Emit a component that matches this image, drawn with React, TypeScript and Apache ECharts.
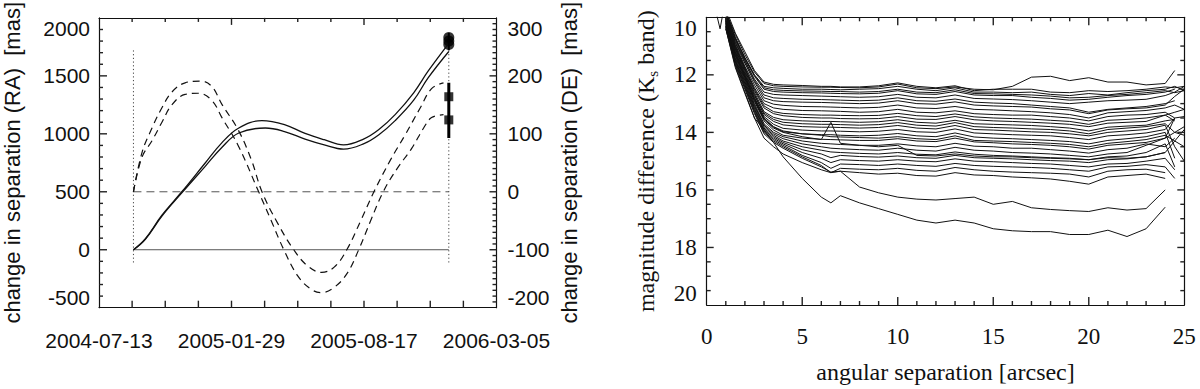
import React, { useEffect, useRef } from "react";
import * as echarts from "echarts";

// ---------- Left panel: change in separation vs date ----------
const DATE_TICKS = ["2004-07-13", "2005-01-29", "2005-08-17", "2006-03-05"];
const DAY_STEP = 200; // days between labelled dates (0 = 2004-07-13)

// RA model curves (mas), days since 2004-07-13
const RA_OUTER_DAY = [52, 70, 95, 125, 160, 185, 211, 246, 280, 311, 340, 369, 400, 422, 447, 475, 497, 528];
const RA_OUTER = [0, 95, 298, 500, 746, 920, 1050, 1114, 1079, 1003, 949, 905, 957, 1035, 1166, 1354, 1542, 1780];
const RA_INNER_DAY = [52, 70, 95, 125, 160, 185, 211, 251, 280, 311, 340, 369, 400, 422, 447, 475, 497, 528];
const RA_INNER = [0, 90, 290, 490, 717, 880, 1007, 1050, 1020, 955, 905, 868, 915, 990, 1114, 1290, 1484, 1710];

// DE model curves (mas), days since 2004-07-13
const DE_A_DAY = [52, 65, 80, 95, 110, 130, 153, 170, 186, 210, 230, 246, 270, 294, 315, 336, 355, 374, 395, 415, 440, 462, 485, 502, 520];
const DE_A = [0, 68, 110, 145, 172, 188, 191, 182, 150, 107, 55, 0, -55, -100, -128, -139, -130, -100, -50, 0, 55, 98, 145, 178, 188];
const DE_B_DAY = [52, 65, 80, 95, 110, 130, 150, 170, 186, 210, 241, 260, 279, 300, 320, 336, 355, 375, 392, 410, 429, 450, 472, 490, 502, 520];
const DE_B = [0, 60, 88, 120, 150, 168, 170, 158, 127, 80, 0, -50, -100, -145, -168, -174, -165, -140, -100, -50, 0, 40, 75, 110, 128, 133];

// reference lines / epochs
const EPOCH_DAYS = [52, 528];
const DOTTED_RANGE = [-110, 1730];

// measurements at the last epoch
const RA_POINTS = [1830, 1800, 1770];
const RA_ERR = [1720, 1870];
const DE_POINTS = [164, 124];
const DE_ERR = [93, 188];

// ---------- Right panel: detection limits ----------
const SEP_X = [1, 1.5, 2, 2.5, 3, 3.5, 4, 5, 6, 6.5, 7, 8, 9, 10, 11, 12, 13, 14, 15, 16, 17, 18, 19, 20, 21, 22, 23, 24, 24.5, 25];

const m01 = [9.8, 10.6, 11.3, 11.9, 12.3, 12.38, 12.4, 12.42, 12.43, 12.43, 12.44, 12.45, 12.42, 12.32, 12.45, 12.48, 12.42, 12.5, 12.52, 12.4, 12.08, 12.05, 12.2, 12.1, 12.25, 12.25, 12.35, 12.3, 11.85, null];
const m02 = [9.7, 10.55, 11.2, 11.85, 12.25, 12.33, 12.35, 12.37, 12.4, 12.4, 12.42, 12.42, 12.38, 12.28, 12.4, 12.45, 12.38, 12.55, 12.5, 12.5, 12.5, 12.6, 12.62, 12.55, 12.58, 12.55, 12.5, 12.42, 12.45, 12.4];
const m03 = [9.8, 10.7, 11.4, 12.0, 12.4, 12.45, 12.47, 12.5, 12.5, 12.51, 12.52, 12.5, 12.48, 12.4, 12.5, 12.55, 12.45, 12.6, 12.6, 12.62, 12.6, 12.68, 12.72, 12.65, 12.7, 12.62, 12.55, 12.5, 12.4, 12.55];
const m04 = [9.85, 10.75, 11.45, 12.05, 12.5, 12.58, 12.6, 12.62, 12.63, 12.64, 12.65, 12.66, 12.64, 12.55, 12.66, 12.68, 12.58, 12.7, 12.72, 12.72, 12.78, 12.82, 12.88, 12.85, 12.78, 12.72, 12.68, 12.6, 12.5, null];
const m05 = [9.8, 10.8, 11.5, 12.15, 12.6, 12.68, 12.7, 12.72, 12.74, 12.75, 12.76, 12.78, 12.76, 12.68, 12.78, 12.8, 12.7, 12.82, 12.84, 12.86, 12.9, 12.95, 13.0, 12.95, 12.9, 12.88, 12.85, 12.72, 12.6, 12.4];
const m06 = [9.9, 10.85, 11.55, 12.2, 12.7, 12.8, 12.82, 12.85, 12.86, 12.87, 12.88, 12.9, 12.88, 12.8, 12.9, 12.92, 12.84, 12.95, 12.98, 13.0, 13.05, 13.1, 13.15, 13.3, 13.2, 13.15, 13.1, 13.0, 12.9, null];
const m07 = [9.9, 10.9, 11.6, 12.25, 12.8, 12.9, 12.93, 12.95, 12.96, 12.97, 12.98, 13.0, 12.98, 12.9, 13.0, 13.02, 12.94, 13.05, 13.08, 13.1, 13.12, 13.18, 13.22, 13.35, 13.22, 13.18, 13.15, 13.05, 12.75, 12.5];
const m08 = [9.95, 10.95, 11.7, 12.35, 12.9, 13.02, 13.06, 13.1, 13.11, 13.12, 13.13, 13.15, 13.13, 13.05, 13.15, 13.17, 13.1, 13.2, 13.22, 13.25, 13.28, 13.32, 13.38, 13.5, 13.32, 13.28, 13.24, 13.15, 13.05, 13.2];
const m09 = [10.0, 11.0, 11.75, 12.45, 13.0, 13.15, 13.2, 13.24, 13.25, 13.26, 13.27, 13.3, 13.28, 13.2, 13.3, 13.32, 13.25, 13.35, 13.38, 13.4, 13.4, 13.45, 13.5, 13.6, 13.45, 13.4, 13.38, 13.3, 13.5, null];
const m10 = [10.0, 11.05, 11.8, 12.55, 13.15, 13.35, 13.42, 13.48, 13.5, 13.5, 13.52, 13.53, 13.52, 13.45, 13.54, 13.55, 13.45, 13.56, 13.6, 13.62, 13.65, 13.68, 13.72, 13.8, 13.68, 13.65, 13.62, 13.4, 13.3, 13.2];
const m11 = [10.05, 11.1, 11.85, 12.62, 13.28, 13.48, 13.56, 13.6, 13.62, 13.62, 13.63, 13.65, 13.63, 13.56, 13.65, 13.68, 13.58, 13.7, 13.72, 13.74, 13.76, 13.8, 13.85, 13.95, 13.82, 13.78, 13.75, 13.6, 13.55, null];
const m12 = [10.05, 11.1, 11.9, 12.68, 13.33, 13.55, 13.65, 13.7, 13.72, 13.72, 13.73, 13.75, 13.73, 13.66, 13.75, 13.78, 13.66, 13.8, 13.83, 13.85, 13.88, 13.9, 13.95, 14.05, 13.9, 13.85, 13.8, 13.7, 14.0, 14.1];
const m13 = [10.1, 11.15, 11.95, 12.72, 13.38, 13.62, 13.74, 13.8, 13.82, 13.82, 13.83, 13.85, 13.83, 13.76, 13.85, 13.88, 13.76, 13.9, 13.92, 13.95, 13.98, 14.0, 14.05, 14.12, 14.0, 13.95, 13.9, 13.75, 14.5, 15.0];
const m14 = [10.1, 11.2, 12.0, 12.78, 13.45, 13.72, 13.86, 13.92, 13.95, 13.95, 13.96, 13.98, 13.96, 13.9, 13.98, 14.0, 13.88, 14.02, 14.05, 14.08, 14.1, 14.12, 14.18, 14.25, 14.12, 14.08, 14.02, 13.9, 13.5, 13.45];
const m15 = [10.15, 11.25, 12.05, 12.85, 13.52, 13.82, 13.98, 14.05, 14.08, 14.08, 14.1, 14.12, 14.1, 14.04, 14.12, 14.15, 14.02, 14.16, 14.2, 14.22, 14.25, 14.28, 14.32, 14.4, 14.28, 14.22, 14.15, 14.0, 14.9, null];
const m16 = [10.15, 11.3, 12.1, 12.9, 13.55, 13.85, 14.0, 14.15, 14.25, 13.65, 14.38, 14.45, 14.5, 14.45, 14.8, 14.82, 14.75, 14.82, 14.85, 14.85, 14.88, 14.9, 14.92, 14.95, 14.88, 14.9, 14.85, 14.7, 14.3, 13.9];
const m17 = [10.15, 11.3, 12.1, 12.92, 13.6, 13.92, 14.1, 14.2, 14.24, 14.25, 14.26, 14.28, 14.28, 14.22, 14.3, 14.32, 14.2, 14.33, 14.36, 14.4, 14.42, 14.45, 14.5, 14.58, 14.45, 14.4, 14.35, 14.2, 14.0, 13.8];
const m18 = [10.2, 11.35, 12.15, 13.0, 13.7, 14.0, 14.15, 14.3, 14.38, 14.4, 14.42, 14.45, 14.45, 14.4, 14.47, 14.5, 14.38, 14.48, 14.5, 14.55, 14.55, 14.6, 14.65, 14.72, 14.6, 14.55, 14.4, 14.5, 14.2, null];
const m19 = [10.2, 11.4, 12.2, 13.05, 13.75, 14.05, 14.22, 14.4, 14.5, 14.55, 14.57, 14.6, 14.62, 14.55, 14.62, 14.65, 14.52, 14.62, 14.65, 14.7, 14.72, 14.75, 14.8, 14.85, 14.75, 14.7, 14.45, 14.2, 13.5, null];
const m20 = [10.25, 11.45, 12.25, 13.1, 13.8, 14.1, 14.3, 14.5, 14.62, 14.68, 14.7, 14.73, 14.75, 14.7, 14.76, 14.78, 14.68, 14.76, 14.8, 14.82, 14.85, 14.88, 14.9, 14.95, 14.85, 14.82, 14.7, 14.4, 15.2, null];
const m21 = [10.25, 11.5, 12.3, 13.15, 13.85, 14.15, 14.35, 14.6, 14.75, 14.88, 14.8, 14.84, 14.86, 14.82, 14.88, 14.9, 14.8, 14.88, 14.9, 14.92, 14.95, 14.98, 15.0, 15.05, 14.95, 14.92, 14.85, 14.7, null, null];
const m22 = [10.3, 11.5, 12.35, 13.2, 13.9, 14.2, 14.4, 14.7, 14.9, 15.05, 14.95, 14.98, 15.0, 14.95, 15.0, 15.02, 14.92, 15.0, 15.02, 15.05, 15.08, 15.1, 15.15, 15.2, 15.1, 15.08, 15.0, 14.9, 15.3, null];
const m23 = [10.3, 11.55, 12.4, 13.25, 13.95, 14.25, 14.45, 14.8, 15.05, 15.25, 15.1, 15.12, 15.15, 15.1, 15.15, 15.18, 15.08, 15.15, 15.18, 15.2, 15.22, 15.25, 15.3, 15.35, 15.2, 15.18, 15.12, 15.2, 15.6, null];
const m24 = [10.35, 11.6, 12.45, 13.3, 14.0, 14.3, 14.5, 14.85, 15.15, 15.4, 15.25, 15.28, 15.3, 15.25, 15.32, 15.35, 15.22, 15.3, 15.35, 15.38, 15.4, 15.42, 15.45, 15.55, 15.35, 15.3, 15.28, 15.4, null, null];
const m25 = [10.35, 11.65, 12.5, 13.35, 14.05, 14.35, 14.55, 14.9, 15.2, 15.38, 15.35, 15.4, 15.45, 15.42, 15.5, 15.52, 15.4, 15.48, 15.5, 15.55, 15.58, 15.62, 15.7, 15.8, 15.55, 15.5, 15.45, 15.6, null, null];
const m26 = [10.4, 11.7, 12.6, 13.5, 14.2, 14.5, 14.75, 15.05, 15.3, 15.4, 15.35, 15.9, 16.1, 16.25, 16.32, 16.35, 16.3, 16.25, 16.5, 16.4, 16.62, 16.68, 16.72, 16.75, 16.62, 16.7, 16.65, 16.0, null, null];
const m27 = [10.4, 11.75, 12.65, 13.5, 13.9, 14.35, 14.85, 15.6, 16.25, 16.45, 16.2, 16.45, 16.65, 16.85, 17.05, 17.15, 17.05, 17.15, 17.35, 17.42, 17.45, 17.45, 17.55, 17.55, 17.4, 17.62, 17.35, 16.6, null, null];
const m28 = [9.82, 10.72, 11.42, 12.02, 12.45, 12.52, 12.54, 12.56, 12.57, 12.58, 12.58, 12.6, 12.58, 12.5, 12.6, 12.62, 12.52, 12.65, 12.66, 12.68, 12.7, 12.74, 12.8, 12.78, 12.72, 12.68, 12.62, 12.55, 12.62, 12.55];
const m29 = [10.0, 11.02, 11.78, 12.5, 13.08, 13.28, 13.34, 13.38, 13.4, 13.4, 13.41, 13.42, 13.41, 13.34, 13.42, 13.45, 13.36, 13.46, 13.5, 13.52, 13.54, 13.58, 13.62, 13.72, 13.58, 13.55, 13.5, 13.4, 13.6, null];
const m30 = [10.12, 11.22, 12.02, 12.82, 13.5, 13.8, 13.95, 14.05, 14.1, 14.15, 14.16, 14.18, 14.2, 14.15, 14.22, 14.25, 14.12, 14.28, 14.3, 14.32, 14.35, 14.38, 14.42, 14.5, 14.38, 14.32, 14.25, 14.1, 14.3, 14.5];

const SPUR_X = [0.5, 0.7, 0.95];
const SPUR_Y = [9.85, 10.4, 9.5];

const MAG_CURVES = [m01, m02, m03, m04, m05, m06, m07, m08, m09, m10, m11, m12, m13, m14, m15,
  m16, m17, m18, m19, m20, m21, m22, m23, m24, m25, m26, m27, m28, m29, m30];

const SANS = "'Liberation Sans', Arial, Helvetica, sans-serif";
const SERIF = "'Liberation Serif', 'Times New Roman', Times, serif";
const INK = "#111";
const TICK_INK = "#222";

function zip(xs: number[], ys: (number | null)[]) {
  const out: number[][] = [];
  xs.forEach((x, i) => {
    const y = ys[i];
    if (y !== null && y !== undefined) out.push([x, y]);
  });
  return out;
}

// tick positions along an axis: [value, length in px]
function tickMarks(min: number, max: number, step: number, majorEvery: number, majorLen: number, minorLen: number) {
  const out: number[][] = [];
  const n = Math.round((max - min) / step);
  for (let i = 1; i < n; i++) {
    const v = min + i * step;
    const isMajor = Math.abs(v / majorEvery - Math.round(v / majorEvery)) < 1e-6;
    out.push([v, isMajor ? majorLen : minorLen]);
  }
  return out;
}

function frameAxis(extra: any) {
  return {
    axisLine: { show: true, onZero: false, lineStyle: { color: INK, width: 1.2 } },
    splitLine: { show: false },
    axisTick: { show: false },
    minorTick: { show: false },
    ...extra,
  };
}

export default function App() {
  const ref = useRef<HTMLDivElement>(null);

  useEffect(() => {
    if (!ref.current) return;
    const chart = echarts.init(ref.current, undefined, { renderer: "svg" });

    const line = (data: number[][], xi: number, yi: number, style: any, smooth: any = false) => ({
      type: "line",
      xAxisIndex: xi,
      yAxisIndex: yi,
      data,
      showSymbol: false,
      symbol: "none",
      smooth,
      silent: true,
      lineStyle: style,
    });

    // inward tick marks (IDL style) drawn from a side of the grid
    const ticks = (xi: number, yi: number, side: string, marks: number[][], refOther: number) => ({
      type: "custom",
      coordinateSystem: "cartesian2d",
      xAxisIndex: xi,
      yAxisIndex: yi,
      silent: true,
      clip: false,
      z: 5,
      data: marks,
      renderItem: (params: any, api: any) => {
        const cs = params.coordSys;
        const v = api.value(0);
        const len = api.value(1);
        let shape: any;
        if (side === "bottom" || side === "top") {
          const px = api.coord([v, refOther])[0];
          const y0 = side === "bottom" ? cs.y + cs.height : cs.y;
          const y1 = side === "bottom" ? y0 - len : y0 + len;
          shape = { x1: px, y1: y0, x2: px, y2: y1 };
        } else {
          const py = api.coord([refOther, v])[1];
          const x0 = side === "left" ? cs.x : cs.x + cs.width;
          const x1 = side === "left" ? x0 + len : x0 - len;
          shape = { x1: x0, y1: py, x2: x1, y2: py };
        }
        return { type: "line", shape, style: { stroke: TICK_INK, lineWidth: 1.4 } };
      },
    });

    const series: any[] = [
      line([[EPOCH_DAYS[0], 0], [EPOCH_DAYS[1], 0]], 0, 0, { color: "#555", width: 1 }),
      line([[EPOCH_DAYS[0], 0], [EPOCH_DAYS[1], 0]], 0, 1, { color: "#555", width: 1, type: [8, 5] }),
      line([[EPOCH_DAYS[0], DOTTED_RANGE[0]], [EPOCH_DAYS[0], DOTTED_RANGE[1]]], 0, 0, { color: "#444", width: 1, type: [1.2, 2.5] }),
      line([[EPOCH_DAYS[1], DOTTED_RANGE[0]], [EPOCH_DAYS[1], DOTTED_RANGE[1]]], 0, 0, { color: "#444", width: 1, type: [1.2, 2.5] }),
      line(zip(RA_OUTER_DAY, RA_OUTER), 0, 0, { color: INK, width: 1.3 }, 0.4),
      line(zip(RA_INNER_DAY, RA_INNER), 0, 0, { color: INK, width: 1.3 }, 0.4),
      line(zip(DE_A_DAY, DE_A), 0, 1, { color: INK, width: 1.2, type: [7, 5] }, 0.4),
      line(zip(DE_B_DAY, DE_B), 0, 1, { color: INK, width: 1.2, type: [7, 5] }, 0.4),
      line([[EPOCH_DAYS[1], RA_ERR[0]], [EPOCH_DAYS[1], RA_ERR[1]]], 0, 0, { color: "#000", width: 2 }),
      line([[EPOCH_DAYS[1], DE_ERR[0]], [EPOCH_DAYS[1], DE_ERR[1]]], 0, 1, { color: "#000", width: 3 }),
      {
        type: "scatter", xAxisIndex: 0, yAxisIndex: 0, silent: true,
        symbol: "circle", symbolSize: 11, itemStyle: { color: "#000" },
        data: RA_POINTS.map((v) => [EPOCH_DAYS[1], v]),
      },
      {
        type: "scatter", xAxisIndex: 0, yAxisIndex: 1, silent: true,
        symbol: "rect", symbolSize: 9, itemStyle: { color: "#000" },
        data: DE_POINTS.map((v) => [EPOCH_DAYS[1], v]),
      },
      line(zip(SPUR_X, SPUR_Y), 2, 2, { color: INK, width: 1 }),
      ...MAG_CURVES.map((c) => line(zip(SEP_X, c), 2, 2, { color: INK, width: 1 })),
      ticks(0, 0, "bottom", tickMarks(0, 600, 50, 200, 7, 7), 0),
      ticks(0, 0, "top", tickMarks(0, 600, 50, 200, 7, 4), 0),
      ticks(0, 0, "left", tickMarks(-500, 2000, 100, 500, 8, 4), 0),
      ticks(0, 1, "right", tickMarks(-200, 300, 10, 100, 7, 4), 0),
      ticks(2, 2, "bottom", tickMarks(0, 25, 1, 5, 8, 4), 15),
      ticks(2, 2, "top", tickMarks(0, 25, 1, 5, 8, 4), 15),
      ticks(2, 2, "left", tickMarks(10, 20, 0.5, 2, 7, 4), 10),
      ticks(2, 2, "right", tickMarks(10, 20, 0.5, 2, 7, 4), 10),
    ];

    const leftLabel = { fontFamily: SANS, fontSize: 21, color: INK };
    const rightLabel = { fontFamily: SERIF, fontSize: 23, color: INK };

    chart.setOption({
      animation: false,
      backgroundColor: "#fff",
      grid: [
        { left: 98.5, right: 703.5, top: 17.7, bottom: 81.3, containLabel: false },
        { left: 706.7, right: 15.7, top: 17.3, bottom: 84, containLabel: false },
      ],
      xAxis: [
        frameAxis({
          gridIndex: 0, type: "value", position: "bottom", min: 0, max: 600, interval: DAY_STEP,
          axisLabel: {
            ...leftLabel, margin: 22, showMinLabel: true, showMaxLabel: true,
            formatter: (v: number) => DATE_TICKS[Math.round(v / DAY_STEP)] ?? "",
          },
        }),
        frameAxis({
          gridIndex: 0, type: "value", position: "top", min: 0, max: 600, interval: DAY_STEP,
          axisLabel: { show: false },
        }),
        frameAxis({
          gridIndex: 1, type: "value", position: "bottom", min: 0, max: 25, interval: 5,
          name: "angular separation [arcsec]", nameLocation: "middle", nameGap: 55,
          nameTextStyle: { fontFamily: SERIF, fontSize: 24, color: INK },
          axisLabel: { ...rightLabel, margin: 20, formatter: (v: number) => String(v) },
        }),
        frameAxis({
          gridIndex: 1, type: "value", position: "top", min: 0, max: 25, interval: 5,
          axisLabel: { show: false },
        }),
      ],
      yAxis: [
        frameAxis({
          gridIndex: 0, type: "value", position: "left", min: -500, max: 2000, interval: 500,
          name: "change in separation (RA)  [mas]", nameLocation: "middle", nameGap: 76,
          nameTextStyle: { fontFamily: SANS, fontSize: 22, color: INK },
          axisLabel: {
            ...leftLabel, margin: 9, formatter: (v: number) => String(v),
            verticalAlignMinLabel: "bottom", verticalAlignMaxLabel: "top",
          },
        }),
        frameAxis({
          gridIndex: 0, type: "value", position: "right", min: -200, max: 300, interval: 100,
          name: "change in separation (DE)  [mas]", nameLocation: "middle", nameGap: 62,
          nameTextStyle: { fontFamily: SANS, fontSize: 22, color: INK },
          axisLabel: {
            ...leftLabel, margin: 11, formatter: (v: number) => String(v),
            verticalAlignMinLabel: "bottom", verticalAlignMaxLabel: "top",
          },
        }),
        frameAxis({
          gridIndex: 1, type: "value", position: "left", min: 10, max: 20, interval: 2, inverse: true,
          name: "magnitude difference (K{sub|s} band)", nameLocation: "middle", nameGap: 46,
          nameTextStyle: {
            fontFamily: SERIF, fontSize: 24, color: INK,
            rich: { sub: { fontFamily: SERIF, fontSize: 15, color: INK, verticalAlign: "bottom", lineHeight: 30 } },
          },
          axisLabel: {
            ...rightLabel, margin: 10, formatter: (v: number) => String(v),
            verticalAlignMinLabel: "top", verticalAlignMaxLabel: "bottom",
          },
        }),
        frameAxis({
          gridIndex: 1, type: "value", position: "right", min: 10, max: 20, interval: 2, inverse: true,
          axisLabel: { show: false },
        }),
      ],
      series,
    });

    return () => chart.dispose();
  }, []);

  return (
    <div
      ref={ref}
      style={{ position: "absolute", left: 0, top: 0, width: 1200, height: 389, background: "#fff" }}
    />
  );
}
